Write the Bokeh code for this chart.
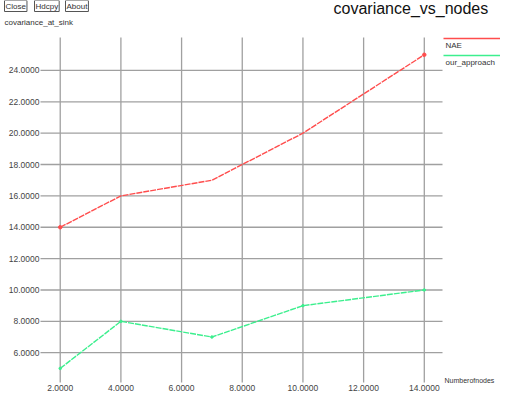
from bokeh.plotting import figure
from bokeh.models import Range1d, Label, Arrow
from bokeh.core.properties import value
from bokeh.embed import file_html
from bokeh.resources import INLINE

# data
nodes_nae = [2, 4, 7, 10, 14]
nae = [14, 16, 17, 20, 25]
nodes_our = [2, 4, 7, 10, 14]
our_approach = [5, 8, 7, 9, 10]
x_ticks = [2, 4, 6, 8, 10, 12, 14]
y_ticks = [6, 8, 10, 12, 14, 16, 18, 20, 22, 24]
x_tick_labels = ["%.4f" % t for t in x_ticks]
y_tick_labels = ["%.4f" % t for t in y_ticks]
series_names = ["NAE", "our_approach"]
title_text = "covariance_vs_nodes"
y_label = "covariance_at_sink"
x_label = "Numberofnodes"
buttons = ["Close", "Hdcpy", "About"]

RED = "#ff4d4d"
GREEN = "#3cef8e"
GRID = "#a0a0a0"
FONT = "Liberation Sans"

W, H = 500, 395
# plot area in canvas pixels
PL, PR, PT, PB = 40, 442, 37, 382
# plot area in data units
x0, x1 = 1.35, 14.6
y0, y1 = 4.1, 26.1
sx = (x1 - x0) / (PR - PL)
sy = (y1 - y0) / (PB - PT)

p = figure(width=W, height=H, output_backend="svg", toolbar_location=None,
           x_range=Range1d(x0 - PL * sx, x1 + (W - PR) * sx),
           y_range=Range1d(y0 - (H - PB) * sy, y1 + PT * sy),
           min_border=0)
p.axis.visible = False
p.grid.visible = False
p.outline_line_color = None
p.background_fill_color = "white"
p.border_fill_color = "white"

def cx(px):
    return x0 + (px - PL) * sx
def cy(py):
    return y1 - (py - PT) * sy

# grid lines limited to plot area
p.segment(x0=x_ticks, y0=[y0] * len(x_ticks), x1=x_ticks, y1=[y1] * len(x_ticks),
          line_color=GRID, line_width=1.3)
p.segment(x0=[x0] * len(y_ticks), y0=y_ticks, x1=[x1] * len(y_ticks), y1=y_ticks,
          line_color=GRID, line_width=1.3)

# tick labels
p.text(x=[x0] * len(y_ticks), y=y_ticks, text=y_tick_labels, x_offset=-1,
       text_align="right", text_baseline="middle", text_font=value(FONT),
       text_font_size="8.5px", text_color="#444444")
p.text(x=x_ticks, y=[y0] * len(x_ticks), text=x_tick_labels, y_offset=2,
       text_align="center", text_baseline="top", text_font=value(FONT),
       text_font_size="8.5px", text_color="#444444")

# series
p.line(nodes_nae, nae, line_color=RED, line_width=1.4, line_dash="6 1")
p.scatter([nodes_nae[0], nodes_nae[-1]], [nae[0], nae[-1]], size=3.5, color=RED)
p.line(nodes_our, our_approach, line_color=GREEN, line_width=1.4, line_dash="6 1")
p.scatter(nodes_our, our_approach, size=2.5, color=GREEN)

# title
p.add_layout(Label(x=cx(333), y=cy(8), text=title_text, text_font=FONT, text_font_size="16px",
                   text_color="#111111", text_baseline="middle"))
# y label
p.add_layout(Label(x=cx(4), y=cy(22), text=y_label, text_font=FONT, text_font_size="8px",
                   text_color="#333333", text_baseline="middle"))
# x label
p.add_layout(Label(x=cx(444), y=cy(380), text=x_label, text_font=FONT, text_font_size="7px",
                   text_color="#333333", text_baseline="middle"))
# buttons
bx = [4, 34, 65]
for b, xx in zip(buttons, bx):
    p.add_layout(Label(x=cx(xx), y=cy(0), text=b, text_font=FONT, text_font_size="8px",
                       text_color="#333333", text_baseline="top",
                       border_line_color="#555555", border_line_width=1,
                       background_fill_color="white", padding=1))
# legend
for name, col, ly in zip(series_names, [RED, GREEN], [38, 55]):
    p.add_layout(Arrow(end=None, x_start=cx(443), y_start=cy(ly), x_end=cx(500), y_end=cy(ly),
                       line_color=col, line_width=1.5))
    p.add_layout(Label(x=cx(445), y=cy(ly + 7), text=name, text_font=FONT, text_font_size="8px",
                       text_color="#333333", text_baseline="middle"))

open("out.html", "w").write(file_html(p, INLINE))
